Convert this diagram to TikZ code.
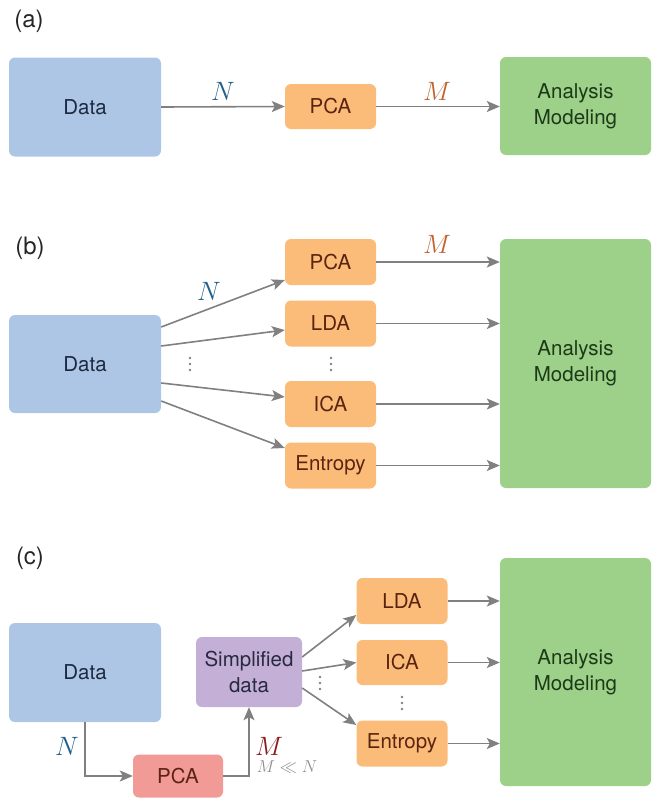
\documentclass[tikz,border=0pt]{standalone}
\usepackage{fontspec}
\setmainfont{TeX Gyre Heros}
\usetikzlibrary{arrows.meta}
\definecolor{cblue}{RGB}{174,198,230}
\definecolor{corange}{RGB}{251,188,121}
\definecolor{cgreen}{RGB}{157,208,137}
\definecolor{cpurple}{RGB}{196,175,214}
\definecolor{cred}{RGB}{242,154,150}
\definecolor{tblue}{RGB}{28,42,64}
\definecolor{tbrown}{RGB}{90,36,16}
\definecolor{tgreen}{RGB}{29,58,24}
\definecolor{tpurple}{RGB}{40,42,64}
\definecolor{ncol}{RGB}{31,95,139}
\definecolor{mcol}{RGB}{192,99,47}
\definecolor{mred}{RGB}{139,26,26}
\definecolor{arr}{RGB}{128,128,128}
\begin{document}
\begin{tikzpicture}[x=1pt,y=-1pt,
  box/.style={rounded corners=6pt, inner sep=0pt, align=center, font=\fontsize{20.5}{26}\selectfont},
  databox/.style={box, fill=cblue, text=tblue, minimum width=152pt, minimum height=99pt},
  methbox/.style={box, fill=corange, text=tbrown, minimum width=91pt, minimum height=46pt},
  anbox/.style={box, fill=cgreen, text=tgreen, minimum width=151pt},
  simpbox/.style={box, fill=cpurple, text=tpurple, minimum width=106pt, minimum height=70pt},
  pcared/.style={box, fill=cred, text=tbrown, minimum width=90pt, minimum height=43pt},
  conn/.style={draw=arr, line width=1.6pt, -{Stealth[length=13pt,width=11pt,inset=3pt]}},
  panel/.style={font=\fontsize{24}{28}\selectfont, text=black!85},
  mlab/.style={font=\fontsize{20.74}{24}\selectfont, scale=1.28, inner sep=0pt},
  dotc/.style={fill=arr}
]
\newcommand{\threedots}[1]{%
  \fill[dotc] ([yshift=6pt]#1) circle (1.3pt);
  \fill[dotc] (#1) circle (1.3pt);
  \fill[dotc] ([yshift=-6pt]#1) circle (1.3pt);}
\useasboundingbox (0,0) rectangle (652,798);
% ---------- (a)
\node[panel] (pa) at (29,21) {(a)};
\node[databox] (dataa) at (85,107) {Data};
\node[methbox, minimum height=45pt] (pcaa) at (330.5,106.5) {PCA};
\node[anbox, minimum height=98pt] (ana) at (575.5,106) {Analysis\\Modeling};
\draw[conn] (dataa.east) -- (pcaa.west);
\draw[conn] (pcaa.east) -- (pcaa.east -| ana.west);
\node[mlab, text=ncol] (na) at (223,91) {$N$};
\node[mlab, text=mcol] (ma) at (437,91) {$M$};
% ---------- (b)
\node[panel] (pb) at (30,248) {(b)};
\node[databox, minimum height=98pt] (datab) at (85,364) {Data};
\node[methbox] (pcab) at (330.5,262) {PCA};
\node[methbox] (ldab) at (330.5,323.5) {LDA};
\node[methbox] (icab) at (330.5,404) {ICA};
\node[methbox] (entb) at (330.5,465.5) {Entropy};
\node[anbox, minimum height=249pt] (anb) at (575.5,363.5) {Analysis\\Modeling};
\draw[conn] ([yshift=37pt]datab.east) -- ([yshift=-18pt]pcab.west);
\draw[conn] ([yshift=18pt]datab.east) -- ([yshift=-6.5pt]ldab.west);
\draw[conn] ([yshift=-19pt]datab.east) -- ([yshift=7pt]icab.west);
\draw[conn] ([yshift=-37pt]datab.east) -- ([yshift=17.5pt]entb.west);
\draw[conn] (pcab.east) -- (pcab.east -| anb.west);
\draw[conn] (ldab.east) -- (ldab.east -| anb.west);
\draw[conn] (icab.east) -- (icab.east -| anb.west);
\draw[conn] (entb.east) -- (entb.east -| anb.west);
\node[mlab, text=ncol] (nb) at (209,291) {$N$};
\node[mlab, text=mcol] (mb) at (437,244) {$M$};
\coordinate (d1b) at (190,364);
\coordinate (d2b) at (331,364);
\threedots{d1b}
\threedots{d2b}
% ---------- (c)
\node[panel] (pc) at (30,558) {(c)};
\node[databox] (datac) at (85,672.5) {Data};
\node[simpbox] (simp) at (249,672) {Simplified\\data};
\node[pcared] (pcac) at (178,776) {PCA};
\node[methbox] (ldac) at (402,601) {LDA};
\node[methbox, minimum height=45pt] (icac) at (402,662.5) {ICA};
\node[methbox] (entc) at (402,743.5) {Entropy};
\node[anbox, minimum height=228pt] (anc) at (575.5,672) {Analysis\\Modeling};
\draw[conn] (datac.south) |- (pcac.west);
\draw[conn] (pcac.east) -| (simp.south);
\draw[conn] ([yshift=15pt]simp.east) -- ([yshift=-14pt]ldac.west);
\draw[conn] ([yshift=1pt]simp.east) -- (icac.west);
\draw[conn] ([yshift=-16pt]simp.east) -- ([yshift=18.5pt]entc.west);
\draw[conn] (ldac.east) -- (ldac.east -| anc.west);
\draw[conn] (icac.east) -- (icac.east -| anc.west);
\draw[conn] (entc.east) -- (entc.east -| anc.west);
\node[mlab, text=ncol] (nc) at (67,746) {$N$};
\node[mlab, text=mred] (mc) at (269,746) {$M$};
\node[text=arr!90, font=\fontsize{14.4}{17}\selectfont, scale=1.2, inner sep=0pt] (mn) at (287,767) {$M \ll N$};
\coordinate (d1c) at (320,683);
\coordinate (d2c) at (402,703);
\threedots{d1c}
\threedots{d2c}
\end{tikzpicture}
\end{document}
